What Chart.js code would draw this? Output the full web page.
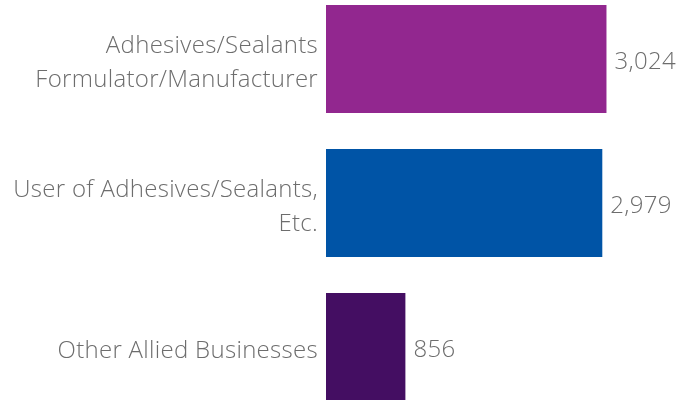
<!DOCTYPE html>
<html>
<head>
<meta charset="utf-8">
<script src="https://cdn.jsdelivr.net/npm/chart.js@4"></script>
<style>
    html, body { margin: 0; padding: 0; background: #ffffff; overflow: hidden; }
    #wrap { position: absolute; left: 0; top: -13px; width: 697px; height: 432px; }
</style>
</head>
<body>
<div id="wrap"><canvas id="barChart"></canvas></div>
<script>
const categories = [
    ['Adhesives/Sealants', 'Formulator/Manufacturer'],
    ['User of Adhesives/Sealants,', 'Etc.'],
    'Other Allied Businesses'
];
const counts = [3024, 2979, 856];
const barColors = ['#92278f', '#0054a6', '#440e62'];

const textColor = '#6d6d6d';
const labelFont = '300 24px "Open Sans", sans-serif';
const lineGap = 34;
const textNudge = 4;

// category names on the left, drawn at the y scale's tick positions
const categoryLabels = {
    id: 'categoryLabels',
    afterDraw(chart) {
        const ctx = chart.ctx;
        const yScale = chart.scales.y;
        ctx.save();
        ctx.fillStyle = textColor;
        ctx.font = labelFont;
        ctx.letterSpacing = '0.3px';
        ctx.textAlign = 'right';
        ctx.textBaseline = 'middle';
        categories.forEach((label, i) => {
            const lines = Array.isArray(label) ? label : [label];
            const yMid = yScale.getPixelForTick(i);
            lines.forEach((line, j) => {
                const y = yMid + (j - (lines.length - 1) / 2) * lineGap + textNudge;
                ctx.fillText(line, yScale.right - 8, y);
            });
        });
        ctx.restore();
    }
};

const valueLabels = {
    id: 'valueLabels',
    afterDatasetsDraw(chart) {
        const ctx = chart.ctx;
        const meta = chart.getDatasetMeta(0);
        ctx.save();
        ctx.fillStyle = textColor;
        ctx.font = labelFont;
        ctx.letterSpacing = '0.3px';
        ctx.textAlign = 'left';
        ctx.textBaseline = 'middle';
        meta.data.forEach((bar, i) => {
            ctx.fillText(counts[i].toLocaleString('en-US'), bar.x + 8, bar.y + textNudge - 1);
        });
        ctx.restore();
    }
};

function createBarChart() {
    const barCtx = document.getElementById('barChart').getContext('2d');

    const barChartConfig = {
        type: 'bar',
        data: {
            labels: categories,
            datasets: [{
                data: counts,
                backgroundColor: barColors,
                categoryPercentage: 0.75,
                barPercentage: 1
            }]
        },
        options: {
            indexAxis: 'y',
            responsive: true,
            maintainAspectRatio: false,
            animation: false,
            layout: { padding: 0 },
            plugins: {
                legend: { display: false },
                tooltip: { enabled: false }
            },
            scales: {
                x: {
                    display: false,
                    min: 0,
                    max: 4000
                },
                y: {
                    grid: { display: false, drawTicks: false },
                    border: { display: false },
                    ticks: { display: false },
                    afterFit(scale) {
                        scale.width = 326;
                        scale.paddingTop = 0;
                        scale.paddingBottom = 0;
                    }
                }
            }
        },
        plugins: [categoryLabels, valueLabels]
    };

    new Chart(barCtx, barChartConfig);
}

createBarChart();
</script>
</body>
</html>
